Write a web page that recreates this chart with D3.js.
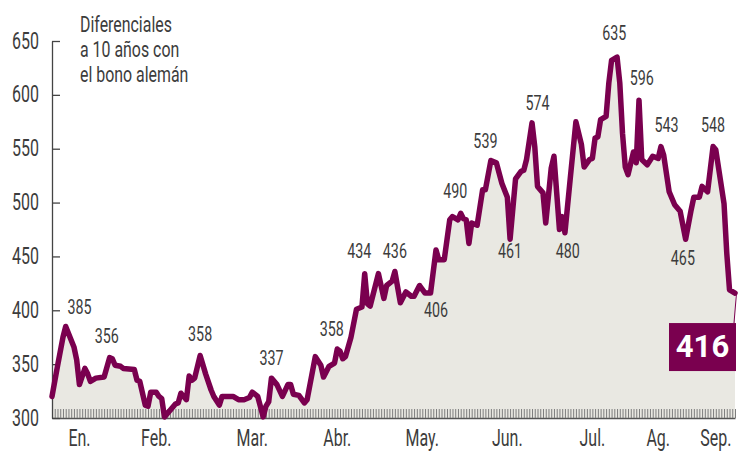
<!DOCTYPE html>
<html>
<head>
<meta charset="utf-8">
<script src="https://cdn.jsdelivr.net/npm/d3@7"></script>
<style>
  body { margin: 0; background: #fff; }
</style>
</head>
<body>
<svg id="chart" width="738" height="452"></svg>
<script>
// Spread vs the German 10y bond, 2012
const dates = ["01-02","01-04","01-06","01-07","01-10","01-11","01-12","01-14","01-15","01-16","01-18","01-21","01-23","01-24","01-25","01-27","01-28",
  "02-01","02-02","02-03","02-05","02-06","02-07","02-09","02-10","02-11","02-12","02-14","02-16","02-17","02-18","02-20","02-21","02-22","02-23","02-25","02-27","02-29",
  "03-01","03-03","03-04","03-08","03-10","03-12","03-14","03-15","03-17","03-19","03-20","03-21","03-22","03-24","03-26","03-28","03-29","03-30",
  "04-01","04-03","04-04","04-07","04-09","04-10","04-12","04-14","04-15","04-16","04-17","04-18","04-20","04-22","04-24","04-25","04-26","04-27","04-30",
  "05-02","05-03","05-05","05-06","05-08","05-10","05-12","05-13","05-15","05-17","05-19","05-21","05-22","05-24","05-26","05-27","05-29","05-30","05-31",
  "06-01","06-02","06-03","06-05","06-07","06-08","06-10","06-12","06-14","06-16","06-17","06-19","06-21","06-22","06-23","06-25","06-26","06-27","06-29","06-30",
  "07-02","07-03","07-05","07-06","07-07","07-09","07-11","07-13","07-14","07-16","07-17","07-18","07-19","07-20","07-22","07-23","07-24","07-26","07-27","07-28","07-29","07-30",
  "08-01","08-02","08-03","08-04","08-06","08-08","08-10","08-11","08-12","08-14","08-16","08-18","08-20","08-22","08-23","08-25","08-26","08-28","08-30","08-31",
  "09-03","09-04","09-05","09-07"];
const spread = [320,348,375,385,366,354,331,346,341,334,337,338,356,355,349,348,346,
  345,335,334,312,311,324,324,320,318,301,307,313,314,323,317,339,335,337,358,341,326,
  320,312,320,320,317,317,319,324,320,301,311,315,337,331,320,331,331,322,
  321,314,317,357,349,338,348,351,364,362,355,357,375,401,403,434,406,404,434,
  411,423,427,436,407,417,413,413,423,416,416,456,447,447,484,487,484,490,485,
  484,462,481,479,512,512,539,537,518,505,466,522,529,530,540,574,552,515,509,481,
  532,543,475,487,472,524,575,554,533,540,541,560,561,577,580,611,632,635,611,564,533,526,
  547,537,595,540,535,543,541,552,544,510,498,492,466,493,505,505,515,510,552,549,
  499,453,419,416];

const yTicks = [300, 350, 400, 450, 500, 550, 600, 650];
const monthNames = ["En.", "Feb.", "Mar.", "Abr.", "May.", "Jun.", "Jul.", "Ag.", "Sep."];
const monthDates = ["01-12", "02-09", "03-15", "04-15", "05-16", "06-16", "07-17", "08-10", "08-31"];

const peakValues = [385, 356, 358, 337, 358, 434, 436, 406, 490, 539, 461, 574, 480, 635, 596, 543, 465, 548];
const peakDates = ["01-12","01-22","02-25","03-22","04-13","04-23","05-06","05-21","05-28","06-08","06-17","06-27","07-08","07-25","08-04","08-13","08-19","08-30"];

const titleLines = ["Diferenciales", "a 10 años con", "el bono alemán"];
const lastValue = 416;

// layout
const lineColor = "#7a004f";
const fillColor = "#e9e8e2";
const textColor = "#3c3c3c";
const SX = 0.68; // squeeze text horizontally, the original uses a condensed face
// vertical nudge of each peak label from its value (px)
const peakDy = [-12, -15, -15, -13, -20, -16, -14, 13, -15, -13, 13, -13, 34, -17, -14, -24, 25, -19];

const parse = d3.timeParse("%Y-%m-%d");
const toDate = s => parse("2012-" + s);

const data = dates.map((d, i) => ({ date: toDate(d), value: spread[i] }));

const svg = d3.select("#chart");

const x = d3.scaleTime()
  .domain([toDate("01-02"), toDate("09-07")])
  .range([52, 735]);

const y = d3.scaleLinear()
  .domain([300, 650])
  .range([418, 41]);

function ctext(g, px, py, str, size, anchor, sx) {
  return g.append("text")
    .attr("transform", "translate(" + px + "," + py + ") scale(" + (sx || SX) + ",1)")
    .attr("text-anchor", anchor || "middle")
    .style("font-family", "Roboto, 'Liberation Sans', sans-serif")
    .style("font-weight", 400)
    .style("font-size", size + "px")
    .style("fill", textColor)
    .text(str);
}

// area under the line
let area = d3.area()
  .x(d => x(d.date))
  .y0(y(300))
  .y1(d => y(d.value));

svg.append("path")
  .datum(data)
  .attr("d", area)
  .attr("fill", fillColor);

// daily hatch along the bottom
let xAxis = svg.append("g")
  .attr("transform", "translate(0," + y(300) + ")")
  .call(d3.axisBottom(x)
    .ticks(d3.timeDay.every(1))
    .tickSize(-9)
    .tickSizeOuter(0)
    .tickFormat(""));
xAxis.selectAll(".tick line").attr("stroke", "#7d7d7d").attr("stroke-width", 1);
xAxis.select(".domain").attr("stroke", "#555").attr("stroke-width", 1.5);

// y axis, ticks pointing inward
let yAxis = svg.append("g")
  .attr("transform", "translate(52,0)")
  .call(d3.axisLeft(y)
    .tickValues(yTicks)
    .tickSize(-8)
    .tickSizeOuter(0)
    .tickFormat(""));
yAxis.selectAll(".tick line").attr("stroke", "#444").attr("stroke-width", 1.3);
yAxis.select(".domain").attr("stroke", "#444").attr("stroke-width", 1.3);

yTicks.forEach(v => {
  ctext(svg, 39, y(v) + 7.5, v, 23.5, "end");
});

// month labels
monthNames.forEach((m, i) => {
  ctext(svg, x(toDate(monthDates[i])), 446, m, 23.5, "middle");
});

// title
titleLines.forEach((t, i) => {
  ctext(svg, 80, 32 + i * 25, t, 21.5, "start", 0.74);
});

// the line
let line = d3.line()
  .x(d => x(d.date))
  .y(d => y(d.value));

svg.append("path")
  .datum(data)
  .attr("d", line)
  .attr("fill", "none")
  .attr("stroke", lineColor)
  .attr("stroke-width", 5.5)
  .attr("stroke-linejoin", "round")
  .attr("stroke-linecap", "round");

// peak labels
peakValues.forEach((v, i) => {
  ctext(svg, x(toDate(peakDates[i])), y(v) + peakDy[i], v, 21, "middle");
});

// last value box
let last = data[data.length - 1];
let lx = x(last.date), ly = y(last.value);
svg.append("line")
  .attr("x1", lx + 1.5).attr("y1", ly)
  .attr("x2", lx - 1).attr("y2", ly + 30)
  .attr("stroke", lineColor)
  .attr("stroke-width", 1);
svg.append("rect")
  .attr("x", lx - 66)
  .attr("y", ly + 30)
  .attr("width", 67)
  .attr("height", 48)
  .attr("fill", lineColor);
svg.append("text")
  .attr("x", lx - 32.5)
  .attr("y", ly + 64)
  .attr("text-anchor", "middle")
  .style("font-family", "Roboto, 'Liberation Sans', sans-serif")
  .style("font-weight", 700)
  .style("font-size", "31px")
  .style("fill", "#fff")
  .text(lastValue);
</script>
</body>
</html>
